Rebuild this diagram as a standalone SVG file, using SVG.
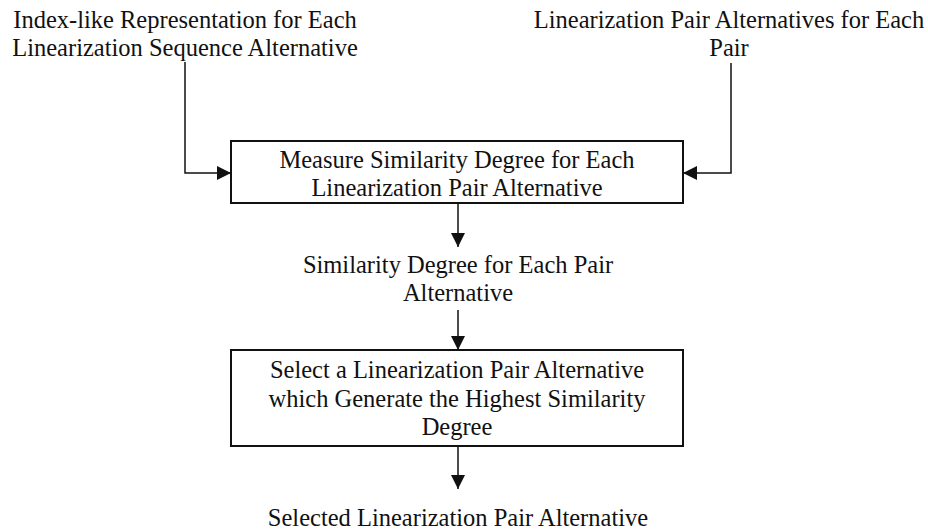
<svg xmlns="http://www.w3.org/2000/svg" width="928" height="532" viewBox="0 0 928 532">
<style>
text{font-family:"Liberation Serif","Times New Roman",serif;font-size:24.5px;fill:#111;text-anchor:middle}
.box{fill:#fff;stroke:#111;stroke-width:2}
.ln{fill:none;stroke:#111;stroke-width:1.5}
</style>
<defs>
<marker id="ah" viewBox="0 0 14 14" refX="14" refY="7" markerWidth="14" markerHeight="14" markerUnits="userSpaceOnUse" orient="auto">
<path d="M0,0 L14,7 L0,14 Z" fill="#111"/>
</marker>
</defs>
<rect width="928" height="532" fill="#fff"/>
<g id="connectors">
<path class="ln" d="M185,62 V173 H231" marker-end="url(#ah)"/>
<path class="ln" d="M731,63 V173 H683" marker-end="url(#ah)"/>
<path class="ln" d="M458,203 V247" marker-end="url(#ah)"/>
<path class="ln" d="M458,310 V350" marker-end="url(#ah)"/>
<path class="ln" d="M458,446 V489" marker-end="url(#ah)"/>
</g>
<g id="input1">
<text x="185" y="28">Index-like Representation for Each</text>
<text x="185" y="56">Linearization Sequence Alternative</text>
</g>
<g id="input2">
<text x="729" y="28">Linearization Pair Alternatives for Each</text>
<text x="729" y="56">Pair</text>
</g>
<g id="measure">
<rect class="box" x="231" y="141" width="452" height="62"/>
<text x="457" y="168">Measure Similarity Degree for Each</text>
<text x="457" y="196">Linearization Pair Alternative</text>
</g>
<g id="similarity">
<text x="458" y="273">Similarity Degree for Each Pair</text>
<text x="458" y="301">Alternative</text>
</g>
<g id="select">
<rect class="box" x="231" y="350" width="452" height="96"/>
<text x="457" y="378">Select a Linearization Pair Alternative</text>
<text x="457" y="407">which Generate the Highest Similarity</text>
<text x="457" y="435">Degree</text>
</g>
<g id="selected">
<text x="458" y="526">Selected Linearization Pair Alternative</text>
</g>
</svg>
